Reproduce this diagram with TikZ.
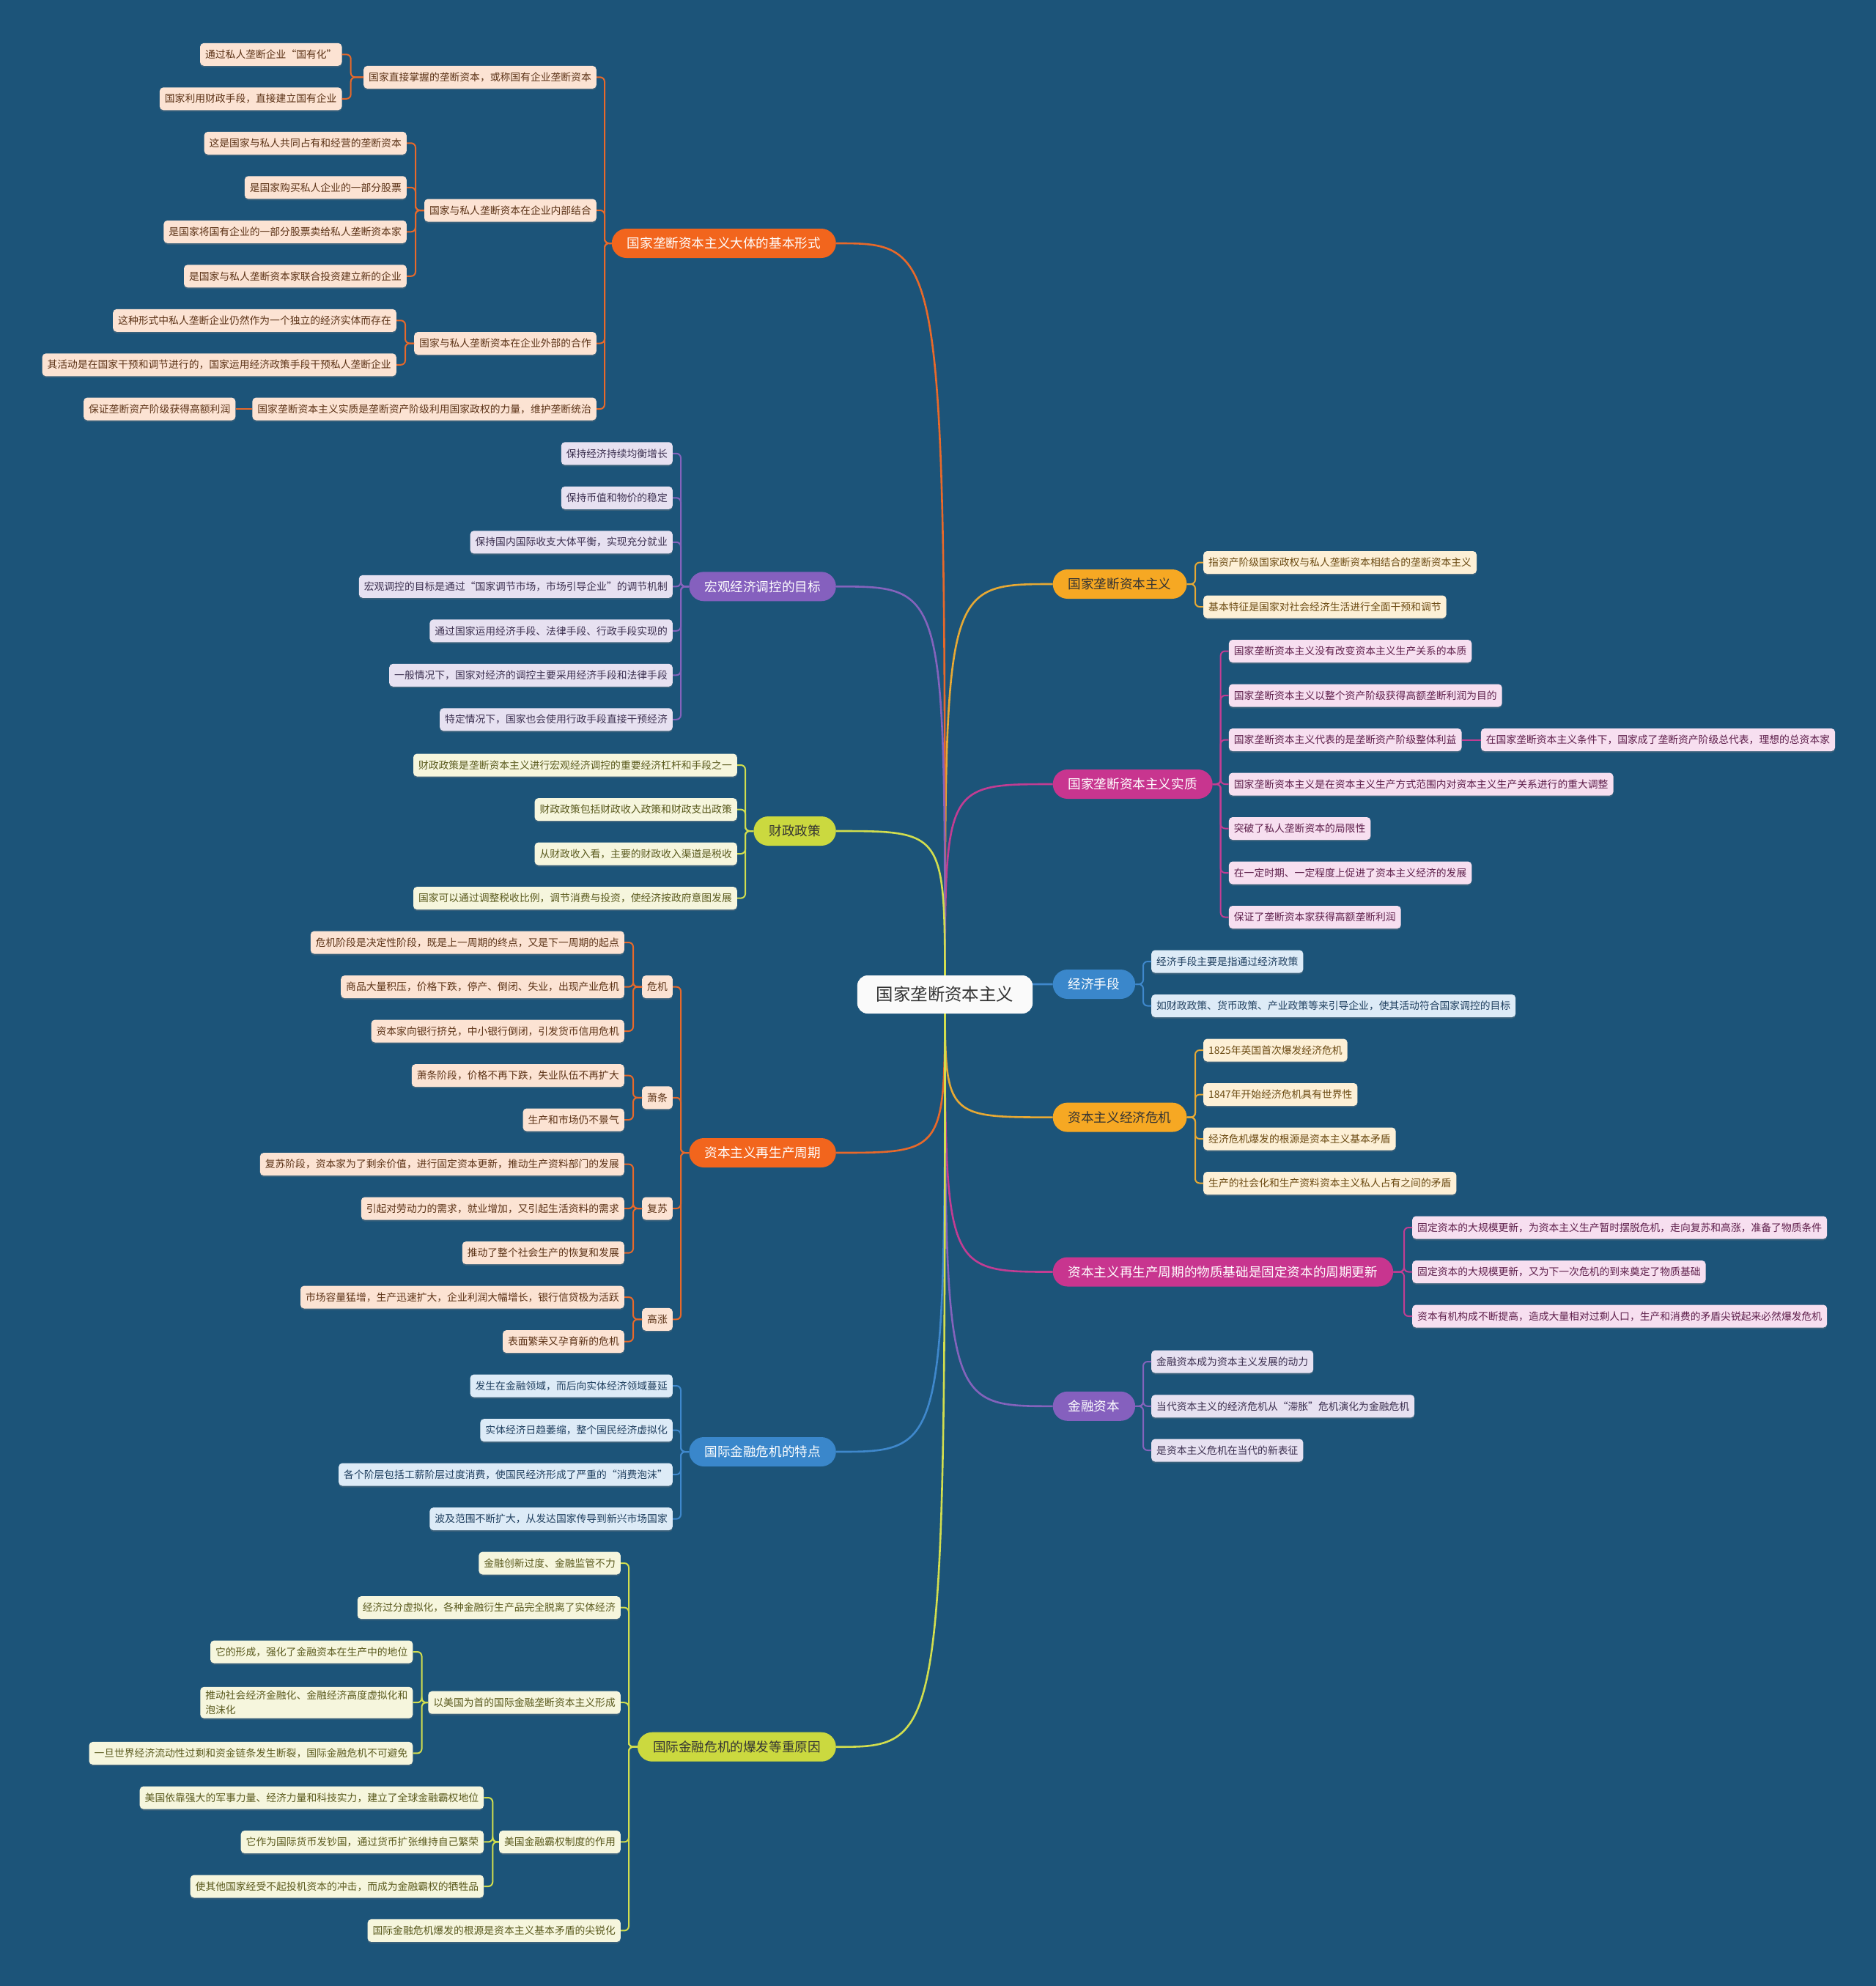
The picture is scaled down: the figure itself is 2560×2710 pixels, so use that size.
\documentclass[tikz,border=0pt]{standalone}
\usepackage{fontspec}
\setmainfont{Noto Sans CJK SC}
\usetikzlibrary{calc,shadows}
\pgfdeclarelayer{back}
\pgfsetlayers{back,main}

\definecolor{bgblue}{HTML}{1C5479}
% topic fills
\definecolor{tpOfill}{HTML}{F2651D}
\definecolor{tpAfill}{HTML}{F6A823}
\definecolor{tpMfill}{HTML}{C8358F}
\definecolor{tpBfill}{HTML}{3A87CB}
\definecolor{tpPfill}{HTML}{8560BE}
\definecolor{tpYfill}{HTML}{CBD93F}
% leaf fills and texts
\definecolor{lfOfill}{HTML}{FCE3D3}\definecolor{lfOtext}{HTML}{5C3317}
\definecolor{lfAfill}{HTML}{FDF0D6}\definecolor{lfAtext}{HTML}{6B4A12}
\definecolor{lfMfill}{HTML}{F7DFF0}\definecolor{lfMtext}{HTML}{5E1F4B}
\definecolor{lfBfill}{HTML}{DDEBF7}\definecolor{lfBtext}{HTML}{1F3F5F}
\definecolor{lfPfill}{HTML}{E7E1F1}\definecolor{lfPtext}{HTML}{3C3050}
\definecolor{lfYfill}{HTML}{F6F6DD}\definecolor{lfYtext}{HTML}{5A5A1E}
% connector colours
\definecolor{lineO}{HTML}{E8692A}
\definecolor{lineA}{HTML}{E7A934}
\definecolor{lineM}{HTML}{C23D93}
\definecolor{lineB}{HTML}{3F88CC}
\definecolor{lineP}{HTML}{8463BC}
\definecolor{lineY}{HTML}{D2DE4E}

\begin{document}
\begin{tikzpicture}[
  x=1pt, y=-1pt,
  rootbox/.style={font=\fontsize{23.4}{28}\selectfont, fill=white!96!gray, text=black!80,
    rounded corners=14pt, minimum height=52pt, inner xsep=26pt},
  topic/.style={font=\fontsize{17.6}{21}\selectfont, rounded corners=20pt,
    minimum height=40pt, inner xsep=21pt, inner ysep=0pt},
  tpO/.style={topic, fill=tpOfill, text=white},
  tpA/.style={topic, fill=tpAfill, text=black!80},
  tpM/.style={topic, fill=tpMfill, text=white},
  tpB/.style={topic, fill=tpBfill, text=white},
  tpP/.style={topic, fill=tpPfill, text=white},
  tpY/.style={topic, fill=tpYfill, text=black!80},
  leafbox/.style={font=\fontsize{13.8}{20}\selectfont, rounded corners=5pt,
    minimum height=31pt, inner xsep=7pt, inner ysep=2pt,
    drop shadow={shadow xshift=0pt, shadow yshift=-2pt, opacity=.3}},
  lfO/.style={leafbox, fill=lfOfill, text=lfOtext},
  lfA/.style={leafbox, fill=lfAfill, text=lfAtext},
  lfM/.style={leafbox, fill=lfMfill, text=lfMtext},
  lfB/.style={leafbox, fill=lfBfill, text=lfBtext},
  lfP/.style={leafbox, fill=lfPfill, text=lfPtext},
  lfY/.style={leafbox, fill=lfYfill, text=lfYtext},
  lnO/.style={draw=lineO, line width=2pt, rounded corners=6pt},
  lnA/.style={draw=lineA, line width=2pt, rounded corners=6pt},
  lnM/.style={draw=lineM, line width=2pt, rounded corners=6pt},
  lnB/.style={draw=lineB, line width=2pt, rounded corners=6pt},
  lnP/.style={draw=lineP, line width=2pt, rounded corners=6pt},
  lnY/.style={draw=lineY, line width=2pt, rounded corners=6pt}
]
\useasboundingbox (0,0) rectangle (2560,2710);

\node[rootbox] (root) at (1289.5,1357) {国家垄断资本主义};

% right side
\node[tpA, anchor=west] (zb) at (1436.5,797) {国家垄断资本主义};
\node[lfA, anchor=west] (zb1) at (1642,767.5) {指资产阶级国家政权与私人垄断资本相结合的垄断资本主义};
\node[lfA, anchor=west] (zb2) at (1642,828) {基本特征是国家对社会经济生活进行全面干预和调节};

\node[tpM, anchor=west] (zz) at (1436.5,1070) {国家垄断资本主义实质};
\node[lfM, anchor=west] (zz1) at (1676.7,888.5) {国家垄断资本主义没有改变资本主义生产关系的本质};
\node[lfM, anchor=west] (zz2) at (1676.7,949) {国家垄断资本主义以整个资产阶级获得高额垄断利润为目的};
\node[lfM, anchor=west] (zz3) at (1676.7,1009.5) {国家垄断资本主义代表的是垄断资产阶级整体利益};
\node[lfM, anchor=west] (zz3a) at (2020.7,1009.5) {在国家垄断资本主义条件下，国家成了垄断资产阶级总代表，理想的总资本家};
\node[lfM, anchor=west] (zz4) at (1676.7,1070) {国家垄断资本主义是在资本主义生产方式范围内对资本主义生产关系进行的重大调整};
\node[lfM, anchor=west] (zz5) at (1676.7,1130.5) {突破了私人垄断资本的局限性};
\node[lfM, anchor=west] (zz6) at (1676.7,1191) {在一定时期、一定程度上促进了资本主义经济的发展};
\node[lfM, anchor=west] (zz7) at (1676.7,1251.5) {保证了垄断资本家获得高额垄断利润};

\node[tpB, anchor=west] (js) at (1436.5,1343) {经济手段};
\node[lfB, anchor=west] (js1) at (1571,1312) {经济手段主要是指通过经济政策};
\node[lfB, anchor=west] (js2) at (1571,1372.5) {如财政政策、货币政策、产业政策等来引导企业，使其活动符合国家调控的目标};

\node[tpA, anchor=west] (wj) at (1436.5,1524.6) {资本主义经济危机};
\node[lfA, anchor=west] (wj1) at (1642,1433) {1825年英国首次爆发经济危机};
\node[lfA, anchor=west] (wj2) at (1642,1493.5) {1847年开始经济危机具有世界性};
\node[lfA, anchor=west] (wj3) at (1642,1554) {经济危机爆发的根源是资本主义基本矛盾};
\node[lfA, anchor=west] (wj4) at (1642,1614.5) {生产的社会化和生产资料资本主义私人占有之间的矛盾};

\node[tpM, anchor=west] (wz) at (1436.5,1735.5) {资本主义再生产周期的物质基础是固定资本的周期更新};
\node[lfM, anchor=west] (wz1) at (1927,1675) {固定资本的大规模更新，为资本主义生产暂时摆脱危机，走向复苏和高涨，准备了物质条件};
\node[lfM, anchor=west] (wz2) at (1927,1735.5) {固定资本的大规模更新，又为下一次危机的到来奠定了物质基础};
\node[lfM, anchor=west] (wz3) at (1927,1796) {资本有机构成不断提高，造成大量相对过剩人口，生产和消费的矛盾尖锐起来必然爆发危机};

\node[tpP, anchor=west] (jr) at (1436.5,1918.8) {金融资本};
\node[lfP, anchor=west] (jr1) at (1571,1858) {金融资本成为资本主义发展的动力};
\node[lfP, anchor=west] (jr2) at (1571,1918.8) {当代资本主义的经济危机从“滞胀”危机演化为金融危机};
\node[lfP, anchor=west] (jr3) at (1571,1979) {是资本主义危机在当代的新表征};

% left side
\node[tpO, anchor=east] (xs) at (1141,332) {国家垄断资本主义大体的基本形式};
\node[lfO, anchor=east] (xs1) at (814,105.4) {国家直接掌握的垄断资本，或称国有企业垄断资本};
\node[lfO, anchor=east] (xs1a) at (466.7,74.3) {通过私人垄断企业“国有化”};
\node[lfO, anchor=east] (xs1b) at (466.7,134.8) {国家利用财政手段，直接建立国有企业};
\node[lfO, anchor=east] (xs2) at (814,287) {国家与私人垄断资本在企业内部结合};
\node[lfO, anchor=east] (xs2a) at (555,195.3) {这是国家与私人共同占有和经营的垄断资本};
\node[lfO, anchor=east] (xs2b) at (555,255.8) {是国家购买私人企业的一部分股票};
\node[lfO, anchor=east] (xs2c) at (555,316.3) {是国家将国有企业的一部分股票卖给私人垄断资本家};
\node[lfO, anchor=east] (xs2d) at (555,376.8) {是国家与私人垄断资本家联合投资建立新的企业};
\node[lfO, anchor=east] (xs3) at (814,468.5) {国家与私人垄断资本在企业外部的合作};
\node[lfO, anchor=east] (xs3a) at (541,437.3) {这种形式中私人垄断企业仍然作为一个独立的经济实体而存在};
\node[lfO, anchor=east] (xs3b) at (541,497.8) {其活动是在国家干预和调节进行的，国家运用经济政策手段干预私人垄断企业};
\node[lfO, anchor=east] (xs4) at (814,558) {国家垄断资本主义实质是垄断资产阶级利用国家政权的力量，维护垄断统治};
\node[lfO, anchor=east] (xs4a) at (321.5,558) {保证垄断资产阶级获得高额利润};

\node[tpP, anchor=east] (hg) at (1141,800.3) {宏观经济调控的目标};
\node[lfP, anchor=east] (hg1) at (918,618.8) {保持经济持续均衡增长};
\node[lfP, anchor=east] (hg2) at (918,679.3) {保持币值和物价的稳定};
\node[lfP, anchor=east] (hg3) at (918,739.8) {保持国内国际收支大体平衡，实现充分就业};
\node[lfP, anchor=east] (hg4) at (918,800.3) {宏观调控的目标是通过“国家调节市场，市场引导企业”的调节机制};
\node[lfP, anchor=east] (hg5) at (918,860.8) {通过国家运用经济手段、法律手段、行政手段实现的};
\node[lfP, anchor=east] (hg6) at (918,921.3) {一般情况下，国家对经济的调控主要采用经济手段和法律手段};
\node[lfP, anchor=east] (hg7) at (918,981.8) {特定情况下，国家也会使用行政手段直接干预经济};

\node[tpY, anchor=east] (cz) at (1141,1134) {财政政策};
\node[lfY, anchor=east] (cz1) at (1006,1044) {财政政策是垄断资本主义进行宏观经济调控的重要经济杠杆和手段之一};
\node[lfY, anchor=east] (cz2) at (1006,1104.6) {财政政策包括财政收入政策和财政支出政策};
\node[lfY, anchor=east] (cz3) at (1006,1165) {从财政收入看，主要的财政收入渠道是税收};
\node[lfY, anchor=east] (cz4) at (1006,1225.6) {国家可以通过调整税收比例，调节消费与投资，使经济按政府意图发展};

\node[tpO, anchor=east] (zq) at (1141,1573) {资本主义再生产周期};
\node[lfO, anchor=east] (zqa) at (918,1346.6) {危机};
\node[lfO, anchor=east] (zqa1) at (852,1286) {危机阶段是决定性阶段，既是上一周期的终点，又是下一周期的起点};
\node[lfO, anchor=east] (zqa2) at (852,1346.6) {商品大量积压，价格下跌，停产、倒闭、失业，出现产业危机};
\node[lfO, anchor=east] (zqa3) at (852,1407) {资本家向银行挤兑，中小银行倒闭，引发货币信用危机};
\node[lfO, anchor=east] (zqb) at (918,1497.8) {萧条};
\node[lfO, anchor=east] (zqb1) at (852,1467.6) {萧条阶段，价格不再下跌，失业队伍不再扩大};
\node[lfO, anchor=east] (zqb2) at (852,1528) {生产和市场仍不景气};
\node[lfO, anchor=east] (zqc) at (918,1649) {复苏};
\node[lfO, anchor=east] (zqc1) at (852,1588.6) {复苏阶段，资本家为了剩余价值，进行固定资本更新，推动生产资料部门的发展};
\node[lfO, anchor=east] (zqc2) at (852,1649) {引起对劳动力的需求，就业增加，又引起生活资料的需求};
\node[lfO, anchor=east] (zqc3) at (852,1709.6) {推动了整个社会生产的恢复和发展};
\node[lfO, anchor=east] (zqd) at (918,1800.3) {高涨};
\node[lfO, anchor=east] (zqd1) at (852,1770) {市场容量猛增，生产迅速扩大，企业利润大幅增长，银行信贷极为活跃};
\node[lfO, anchor=east] (zqd2) at (852,1830.6) {表面繁荣又孕育新的危机};

\node[tpB, anchor=east] (td) at (1141,1981) {国际金融危机的特点};
\node[lfB, anchor=east] (td1) at (918,1891) {发生在金融领域，而后向实体经济领域蔓延};
\node[lfB, anchor=east] (td2) at (918,1951.6) {实体经济日趋萎缩，整个国民经济虚拟化};
\node[lfB, anchor=east] (td3) at (918,2012) {各个阶层包括工薪阶层过度消费，使国民经济形成了严重的“消费泡沫”};
\node[lfB, anchor=east] (td4) at (918,2072.6) {波及范围不断扩大，从发达国家传导到新兴市场国家};

\node[tpY, anchor=east] (yy) at (1141,2383.7) {国际金融危机的爆发等重原因};
\node[lfY, anchor=east] (yy1) at (847,2133) {金融创新过度、金融监管不力};
\node[lfY, anchor=east] (yy2) at (847,2193.6) {经济过分虚拟化，各种金融衍生产品完全脱离了实体经济};
\node[lfY, anchor=east] (yy3) at (847,2323.2) {以美国为首的国际金融垄断资本主义形成};
\node[lfY, anchor=east] (yy3a) at (563.5,2254) {它的形成，强化了金融资本在生产中的地位};
\node[lfY, anchor=east, align=left, inner ysep=5pt] (yy3b) at (563.5,2323.2) {推动社会经济金融化、金融经济高度虚拟化和\\泡沫化};
\node[lfY, anchor=east] (yy3c) at (563.5,2392.4) {一旦世界经济流动性过剩和资金链条发生断裂，国际金融危机不可避免};
\node[lfY, anchor=east] (yy4) at (847,2513.4) {美国金融霸权制度的作用};
\node[lfY, anchor=east] (yy4a) at (660.3,2453) {美国依靠强大的军事力量、经济力量和科技实力，建立了全球金融霸权地位};
\node[lfY, anchor=east] (yy4b) at (660.3,2513.4) {它作为国际货币发钞国，通过货币扩张维持自己繁荣};
\node[lfY, anchor=east] (yy4c) at (660.3,2574) {使其他国家经受不起投机资本的冲击，而成为金融霸权的牺牲品};
\node[lfY, anchor=east] (yy5) at (847,2634.4) {国际金融危机爆发的根源是资本主义基本矛盾的尖锐化};

% background and main branches
\begin{pgfonlayer}{back}
\fill[bgblue] (0,0) rectangle (2560,2710);
\foreach \m/\c in {zb/lnA,zz/lnM,js/lnB,wj/lnA,wz/lnM,jr/lnP}
  \draw[\c, line width=2.6pt] (root.center) .. controls (root.center |- \m.west) .. (\m.west);
\foreach \m/\c in {xs/lnO,hg/lnP,cz/lnY,zq/lnO,td/lnB,yy/lnY}
  \draw[\c, line width=2.6pt] (root.center) .. controls (root.center |- \m.east) .. (\m.east);
\end{pgfonlayer}

% right links
\foreach \c in {zb1,zb2} \draw[lnA] (zb.east) -| ($(\c.west)+(-11,0)$) -- (\c.west);
\foreach \c in {zz1,zz2,zz3,zz4,zz5,zz6,zz7} \draw[lnM] (zz.east) -| ($(\c.west)+(-11,0)$) -- (\c.west);
\draw[lnM] (zz3.east) -- (zz3a.west);
\foreach \c in {js1,js2} \draw[lnB] (js.east) -| ($(\c.west)+(-11,0)$) -- (\c.west);
\foreach \c in {wj1,wj2,wj3,wj4} \draw[lnA] (wj.east) -| ($(\c.west)+(-11,0)$) -- (\c.west);
\foreach \c in {wz1,wz2,wz3} \draw[lnM] (wz.east) -| ($(\c.west)+(-11,0)$) -- (\c.west);
\foreach \c in {jr1,jr2,jr3} \draw[lnP] (jr.east) -| ($(\c.west)+(-11,0)$) -- (\c.west);

% left links
\foreach \c in {xs1,xs2,xs3,xs4} \draw[lnO] (xs.west) -| ($(\c.east)+(11,0)$) -- (\c.east);
\foreach \c in {xs1a,xs1b} \draw[lnO] (xs1.west) -| ($(\c.east)+(12,0)$) -- (\c.east);
\foreach \c in {xs2a,xs2b,xs2c,xs2d} \draw[lnO] (xs2.west) -| ($(\c.east)+(12,0)$) -- (\c.east);
\foreach \c in {xs3a,xs3b} \draw[lnO] (xs3.west) -| ($(\c.east)+(12,0)$) -- (\c.east);
\draw[lnO] (xs4.west) -- (xs4a.east);
\foreach \c in {hg1,hg2,hg3,hg4,hg5,hg6,hg7} \draw[lnP] (hg.west) -| ($(\c.east)+(11,0)$) -- (\c.east);
\foreach \c in {cz1,cz2,cz3,cz4} \draw[lnY] (cz.west) -| ($(\c.east)+(11,0)$) -- (\c.east);
\foreach \c in {zqa,zqb,zqc,zqd} \draw[lnO] (zq.west) -| ($(\c.east)+(11,0)$) -- (\c.east);
\foreach \c in {zqa1,zqa2,zqa3} \draw[lnO] (zqa.west) -| ($(\c.east)+(12,0)$) -- (\c.east);
\foreach \c in {zqb1,zqb2} \draw[lnO] (zqb.west) -| ($(\c.east)+(12,0)$) -- (\c.east);
\foreach \c in {zqc1,zqc2,zqc3} \draw[lnO] (zqc.west) -| ($(\c.east)+(12,0)$) -- (\c.east);
\foreach \c in {zqd1,zqd2} \draw[lnO] (zqd.west) -| ($(\c.east)+(12,0)$) -- (\c.east);
\foreach \c in {td1,td2,td3,td4} \draw[lnB] (td.west) -| ($(\c.east)+(11,0)$) -- (\c.east);
\foreach \c in {yy1,yy2,yy3,yy4,yy5} \draw[lnY] (yy.west) -| ($(\c.east)+(11,0)$) -- (\c.east);
\foreach \c in {yy3a,yy3b,yy3c} \draw[lnY] (yy3.west) -| ($(\c.east)+(12,0)$) -- (\c.east);
\foreach \c in {yy4a,yy4b,yy4c} \draw[lnY] (yy4.west) -| ($(\c.east)+(12,0)$) -- (\c.east);
\end{tikzpicture}
\end{document}
